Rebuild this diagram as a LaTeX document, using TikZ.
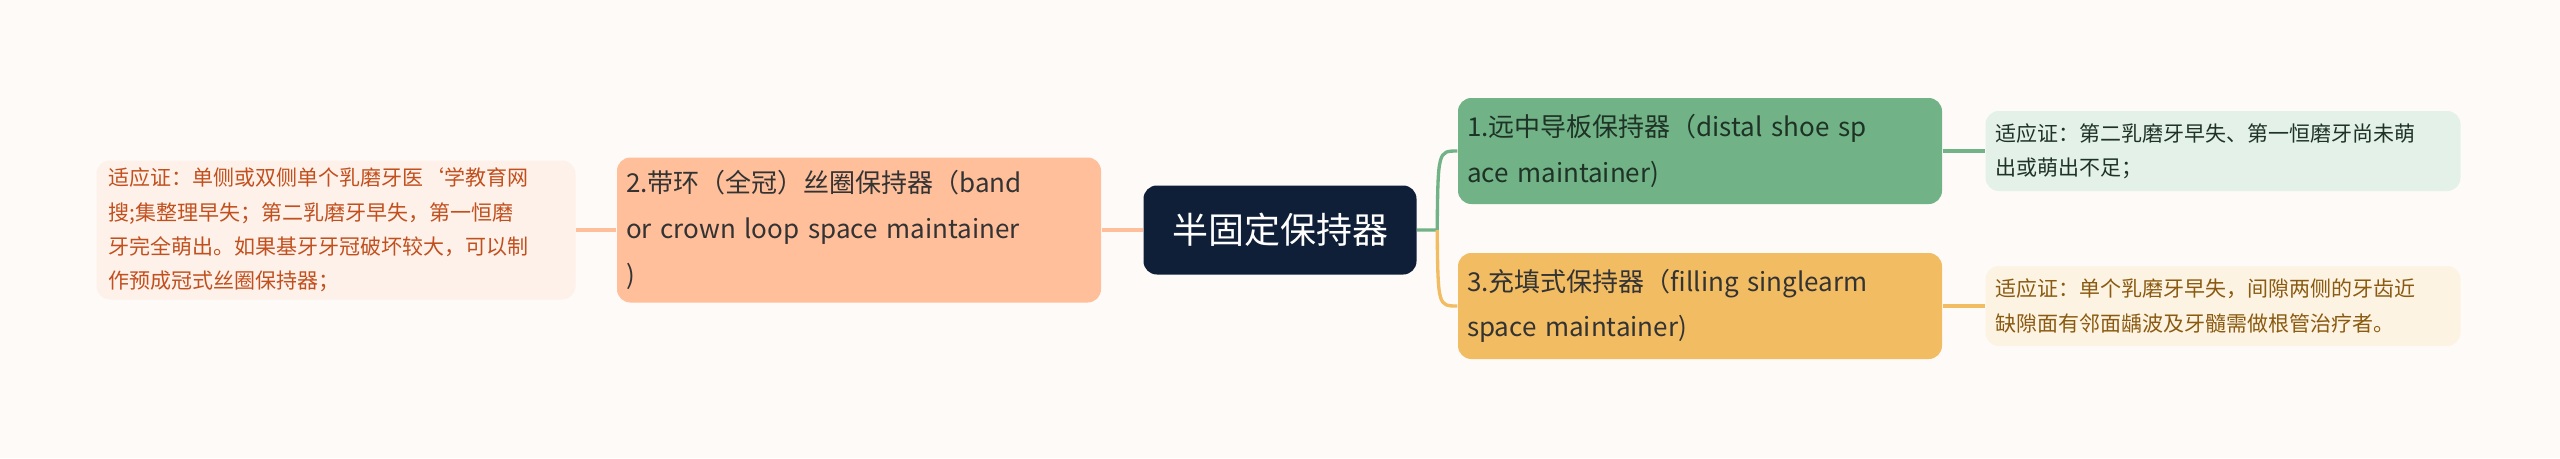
\documentclass[tikz,border=0pt]{standalone}
\usepackage{fontspec}
\setmainfont{Noto Sans CJK SC}
\usetikzlibrary{positioning}
\definecolor{bgcol}{HTML}{FEFAF8}
\definecolor{rootcol}{HTML}{0F1F38}
\definecolor{greencol}{HTML}{72B287}
\definecolor{greenleaf}{HTML}{E4F1E8}
\definecolor{greentext}{HTML}{1E3326}
\definecolor{orangecol}{HTML}{F2BC63}
\definecolor{orangeleaf}{HTML}{FDF3E3}
\definecolor{orangetext}{HTML}{8A5A10}
\definecolor{peachcol}{HTML}{FFBF9A}
\definecolor{peachleaf}{HTML}{FDF1EA}
\definecolor{peachtext}{HTML}{C2501E}
\tikzset{
  topic/.style={rounded corners=4pt, inner sep=0pt, font=\fontsize{7.8}{13.7}\selectfont, align=left},
  leaf/.style={rounded corners=4pt, inner sep=0pt, font=\fontsize{6.3}{10.3}\selectfont, align=left},
  link/.style={line width=1pt}
}
\begin{document}
\begin{tikzpicture}[x=0.3pt,y=-0.3pt]
\fill[bgcol] (0,0) rectangle (2560,458);

%root
\node[fill=rootcol, rounded corners=4pt, text=white, minimum width=273*0.3pt, minimum height=89*0.3pt, font=\fontsize{10.8}{13}\selectfont] (root) at (1280,230) {半固定保持器};

%left branch
\node[topic, fill=peachcol, text=black!80, minimum width=484*0.3pt, minimum height=145*0.3pt, text width=466*0.3pt] (band) at (859,230)
  {2.带环（全冠）丝圈保持器（band\\ or crown loop space maintainer\\)};
\node[leaf, fill=peachleaf, text=peachtext, minimum width=479*0.3pt, minimum height=139*0.3pt, text width=455*0.3pt] (bandleaf) at (336,230)
  {适应证：单侧或双侧单个乳磨牙医`学教育网\\搜;集整理早失；第二乳磨牙早失，第一恒磨\\牙完全萌出。如果基牙牙冠破坏较大，可以制\\作预成冠式丝圈保持器；};

%right branch
\node[topic, fill=greencol, text=greentext, minimum width=484*0.3pt, minimum height=106*0.3pt, text width=466*0.3pt] (shoe) at (1700,151)
  {1.远中导板保持器（distal shoe sp\\ace maintainer)};
\node[leaf, fill=greenleaf, text=greentext, minimum width=475*0.3pt, minimum height=80*0.3pt, text width=455*0.3pt] (shoeleaf) at (2223,151)
  {适应证：第二乳磨牙早失、第一恒磨牙尚未萌\\出或萌出不足；};
\node[topic, fill=orangecol, text=black!80, minimum width=484*0.3pt, minimum height=106*0.3pt, text width=466*0.3pt] (filling) at (1700,306)
  {3.充填式保持器（filling singlearm\\ space maintainer)};
\node[leaf, fill=orangeleaf, text=orangetext, minimum width=475*0.3pt, minimum height=80*0.3pt, text width=455*0.3pt] (fillingleaf) at (2223,306)
  {适应证：单个乳磨牙早失，间隙两侧的牙齿近\\缺隙面有邻面龋波及牙髓需做根管治疗者。};

%connectors
\draw[link, peachcol] (root.west) -- (band.east);
\draw[link, peachcol] (band.west) -- (bandleaf.east);
\draw[link, greencol] (root.east) -- ++(20,0) coordinate (fork) .. controls (1438,151) .. (shoe.west);
\draw[link, orangecol] (fork) .. controls (1438,306) .. (filling.west);
\draw[link, greencol] (shoe.east) -- (shoeleaf.west);
\draw[link, orangecol] (filling.east) -- (fillingleaf.west);
\end{tikzpicture}
\end{document}
